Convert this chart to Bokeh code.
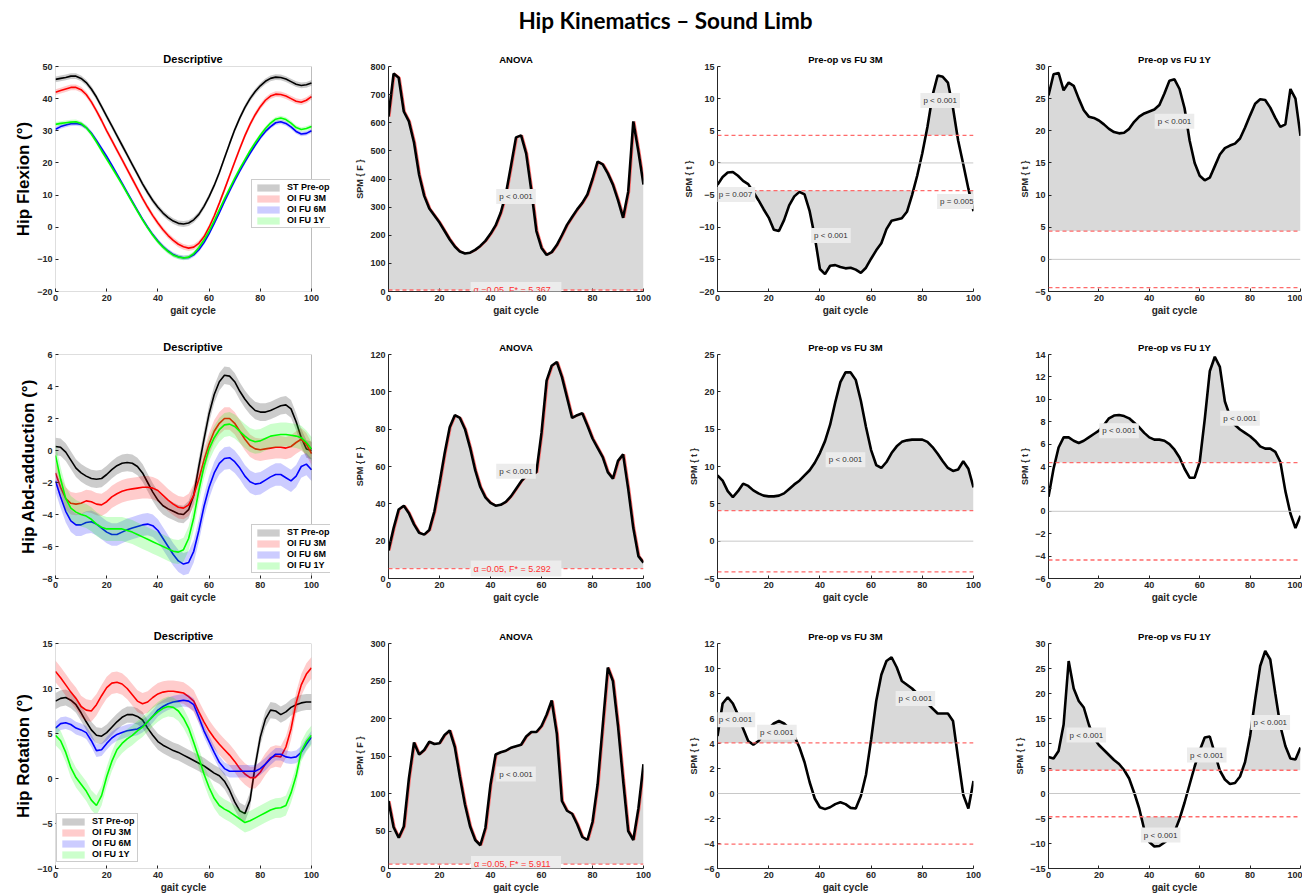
import numpy as np
from bokeh.plotting import figure
from bokeh.models import Range1d, FixedTicker, Label, Legend, LegendItem, Span, BoxAnnotation
from bokeh.layouts import column, row
from bokeh.embed import file_html
from bokeh.resources import INLINE

# ---------------- data ----------------
GAIT = list(range(0, 101, 2))
SERIES_NAMES = ["ST Pre-op", "OI FU 3M", "OI FU 6M", "OI FU 1Y"]
MAIN_TITLE = "Hip Kinematics \u2013 Sound Limb"
ROW_LABELS = ["Hip Flexion (\u00b0)", "Hip Abd-adduction (\u00b0)", "Hip Rotation (\u00b0)"]

# Hip flexion
FLEX_ST = [46.0, 46.3, 46.6, 47.0, 47.0, 46.3, 45.0, 43.0, 40.5, 37.5,
           34.5, 31.5, 28.5, 25.5, 22.5, 19.5, 16.5, 13.5, 10.8, 8.3,
           6.2, 4.4, 3.0, 1.9, 1.2, 1.0, 1.3, 2.3, 4.0, 6.5,
           9.5, 13.0, 17.0, 21.5, 26.0, 30.3, 34.0, 37.3, 40.0, 42.2,
           44.0, 45.4, 46.3, 46.7, 46.6, 46.1, 45.3, 44.5, 44.1, 44.3,
           44.9]
FLEX_3M = [42.0, 42.5, 43.0, 43.5, 43.5, 42.8, 41.3, 39.0, 36.2, 33.2,
           30.0, 27.0, 24.0, 21.0, 18.0, 15.0, 12.0, 9.0, 6.2, 3.6,
           1.3, -0.8, -2.6, -4.1, -5.3, -6.1, -6.5, -6.2, -5.0, -3.0,
           0.0, 3.5, 7.5, 11.7, 16.0, 20.3, 24.5, 28.5, 32.0, 35.0,
           37.5, 39.5, 40.8, 41.4, 41.3, 40.8, 40.0, 39.2, 38.9, 39.5,
           40.6]
FLEX_6M = [30.5, 31.3, 31.8, 32.2, 32.3, 32.0, 31.0, 29.3, 27.0, 24.5,
           22.0, 19.3, 16.5, 13.7, 10.8, 8.0, 5.2, 2.5, 0.0, -2.3,
           -4.3, -6.0, -7.4, -8.5, -9.2, -9.5, -9.4, -8.6, -7.0, -4.8,
           -2.0, 1.2, 4.5, 8.0, 11.3, 14.5, 17.5, 20.3, 23.0, 25.5,
           27.8, 29.8, 31.3, 32.5, 32.8, 32.3, 31.2, 29.8, 29.0, 29.2,
           30.0]
FLEX_1Y = [32.0, 32.3, 32.5, 32.7, 32.8, 32.3, 31.0, 29.0, 26.5, 23.8,
           21.2, 18.6, 16.0, 13.3, 10.5, 7.7, 5.0, 2.3, -0.2, -2.5,
           -4.5, -6.2, -7.6, -8.7, -9.3, -9.6, -9.3, -8.2, -6.3, -4.0,
           -1.2, 2.0, 5.4, 8.8, 12.0, 15.2, 18.2, 21.0, 23.8, 26.3,
           28.6, 30.7, 32.4, 33.6, 34.0, 33.5, 32.4, 31.0, 30.4, 30.7,
           31.3]
FLEX_SD = [0.9, 0.9, 0.7, 0.7]
FLEX_F = [622, 775, 760, 640, 605, 530, 415, 340, 295, 270,
          245, 215, 185, 160, 142, 135, 138, 148, 162, 180,
          205, 235, 280, 345, 445, 548, 555, 490, 360, 215,
          155, 130, 140, 165, 200, 237, 265, 292, 315, 345,
          400, 462, 452, 420, 380, 325, 262, 355, 605, 498,
          380]
FLEX_T3M = [-3.4, -2.2, -1.5, -1.4, -2.0, -2.8, -3.3, -4.5, -5.8, -7.2,
            -8.5, -10.4, -10.6, -8.9, -6.6, -5.2, -4.5, -4.9, -7.5, -11.5,
            -16.5, -17.3, -16.0, -15.9, -16.2, -16.4, -16.3, -16.6, -17.1, -16.3,
            -14.9, -13.6, -12.5, -10.3, -9.0, -8.8, -8.6, -7.6, -5.0, -2.0,
            1.5, 5.6, 10.5, 13.6, 13.4, 12.5, 8.5, 3.5, -0.2, -4.0,
            -7.5]
FLEX_T1Y = [25.5, 28.8, 29.0, 26.3, 27.5, 27.0, 25.0, 23.2, 22.2, 22.0,
            21.6, 21.0, 20.3, 19.8, 19.6, 19.7, 20.3, 21.4, 22.2, 22.7,
            23.0, 23.3, 24.0, 25.8, 27.8, 28.0, 26.5, 23.5, 18.5, 15.0,
            13.0, 12.3, 12.7, 14.5, 16.3, 17.3, 17.7, 18.0, 18.8, 20.5,
            22.4, 24.2, 24.9, 24.8, 23.6, 22.0, 20.6, 21.0, 26.5, 25.0,
            19.2]
FLEX_FSTAR, FLEX_T3M_STAR, FLEX_T1Y_STAR = 5.367, 4.3, 4.4

# Hip abd-adduction
ABD_ST = [0.25, 0.2, -0.1, -0.6, -1.1, -1.4, -1.6, -1.75, -1.8, -1.75,
          -1.5, -1.2, -0.95, -0.8, -0.75, -0.8, -1.0, -1.4, -2.0, -2.6,
          -3.1, -3.45, -3.65, -3.8, -3.95, -4.0, -3.7, -2.8, -1.0, 0.7,
          2.3, 3.5, 4.3, 4.7, 4.65, 4.3, 3.7, 3.2, 2.8, 2.5,
          2.4, 2.4, 2.5, 2.65, 2.8, 2.85, 2.6, 1.8, 0.8, 0.1,
          0.0]
ABD_3M = [-1.4, -2.3, -3.0, -3.3, -3.35, -3.3, -3.15, -3.2, -3.35, -3.4,
          -3.2, -2.9, -2.7, -2.55, -2.45, -2.4, -2.35, -2.3, -2.3, -2.35,
          -2.5, -2.8, -3.1, -3.35, -3.55, -3.6, -3.4, -2.8, -1.8, -0.6,
          0.4, 1.2, 1.7, 2.0, 2.0, 1.7, 1.2, 0.7, 0.3, 0.1,
          0.05, 0.1, 0.15, 0.2, 0.2, 0.15, 0.25, 0.5, 0.7, 0.4,
          -0.2]
ABD_6M = [-1.9, -2.9, -3.8, -4.4, -4.65, -4.65, -4.5, -4.45, -4.6, -4.85,
          -5.1, -5.25, -5.25, -5.1, -4.95, -4.85, -4.75, -4.65, -4.6, -4.7,
          -5.0, -5.5, -6.0, -6.5, -6.9, -7.1, -7.0, -6.3, -5.0, -3.5,
          -2.3, -1.4, -0.8, -0.5, -0.45, -0.7, -1.1, -1.6, -1.95, -2.1,
          -2.05, -1.85, -1.65, -1.5, -1.5, -1.7, -1.9, -1.6, -1.0, -0.85,
          -1.2]
ABD_1Y = [-0.3, -1.8, -3.0, -3.6, -3.85, -4.0, -4.1, -4.3, -4.6, -4.8,
          -4.9, -4.9, -4.9, -4.9, -5.0, -5.1, -5.25, -5.4, -5.55, -5.7,
          -5.85, -6.0, -6.15, -6.3, -6.35, -6.2, -5.5, -4.2, -2.5, -1.0,
          0.1, 0.8, 1.3, 1.6, 1.65, 1.5, 1.2, 0.9, 0.65, 0.55,
          0.6, 0.75, 0.9, 0.95, 1.0, 1.0, 0.95, 0.9, 0.8, 0.5,
          0.1]
ABD_SD = [0.55, 0.7, 0.7, 0.75]
ABD_F = [15, 27, 37, 39, 35, 29, 24.5, 23.5, 26, 36,
         51, 67, 81, 87.5, 86, 80, 70, 58, 49, 43.5,
         40.5, 39, 39.5, 41, 44, 48, 52, 55, 55.5, 57,
         78, 106, 114, 116, 108, 97, 86, 87.5, 88.5, 82,
         75, 70, 65, 57, 53.5, 63, 66.5, 48, 27, 12,
         8.5]
ABD_T3M = [8.8, 8.1, 6.7, 5.9, 6.7, 7.7, 7.4, 6.8, 6.4, 6.1,
           6.0, 6.0, 6.1, 6.4, 7.0, 7.6, 8.1, 8.8, 9.5, 10.5,
           11.8, 13.4, 15.6, 18.6, 21.3, 22.6, 22.6, 21.6, 18.8, 15.3,
           12.2, 10.2, 9.8, 10.6, 11.8, 12.7, 13.3, 13.5, 13.6, 13.6,
           13.6, 13.3, 12.6, 11.7, 10.7, 9.8, 9.4, 9.6, 10.7, 9.7,
           7.2]
ABD_T1Y = [1.3, 3.8, 5.7, 6.6, 6.6, 6.3, 6.1, 6.3, 6.6, 6.9,
           7.2, 7.7, 8.3, 8.55, 8.6, 8.5, 8.3, 7.9, 7.5, 7.0,
           6.6, 6.4, 6.4, 6.3, 6.0, 5.5, 4.8, 3.8, 3.0, 3.0,
           4.4, 8.2, 12.5, 13.8, 12.9, 9.8, 8.5, 7.7, 7.3, 7.0,
           6.7, 6.3, 5.8, 5.6, 5.6, 5.3, 4.4, 1.8, -0.2, -1.5,
           -0.4]
ABD_FSTAR, ABD_T3M_STAR, ABD_T1Y_STAR = 5.292, 4.1, 4.35

# Hip rotation
ROT_ST = [8.6, 8.9, 9.0, 8.7, 8.2, 7.3, 6.3, 5.4, 4.8, 4.7,
          5.1, 5.7, 6.3, 6.8, 7.1, 7.1, 6.9, 6.5, 5.6, 4.8,
          4.1, 3.7, 3.4, 3.1, 2.9, 2.6, 2.3, 2.0, 1.7, 1.4,
          1.0, 0.6, 0.3, -0.3, -1.3, -2.6, -3.6, -3.9, -2.4, 1.4,
          4.6, 6.6, 7.6, 7.5, 7.1, 7.4, 7.9, 8.2, 8.4, 8.5,
          8.5]
ROT_3M = [11.9, 11.2, 10.4, 9.6, 8.9, 8.0, 7.6, 7.5, 8.2, 9.2,
          10.1, 10.6, 10.7, 10.5, 10.0, 9.3, 8.6, 8.3, 8.5, 9.0,
          9.4, 9.6, 9.7, 9.7, 9.6, 9.5, 9.1, 8.6, 7.4, 6.3,
          5.3, 4.5, 3.8, 3.2, 2.6, 1.9, 1.1, 0.5, 0.1, 0.1,
          0.7, 1.6, 2.3, 2.5, 2.4, 3.5, 5.5, 8.4, 10.4, 11.6,
          12.3]
ROT_6M = [5.6, 6.1, 6.2, 6.0, 5.6, 5.4, 5.1, 4.2, 3.1, 3.2,
          3.9, 4.5, 4.9, 5.1, 5.3, 5.4, 5.5, 5.8, 6.3, 6.9,
          7.6, 8.0, 8.3, 8.5, 8.6, 8.7, 8.6, 8.2, 6.8, 5.3,
          4.1, 2.9, 1.8, 1.1, 0.8, 0.8, 0.8, 0.8, 0.8, 0.8,
          1.1, 1.6, 2.2, 2.7, 2.7, 2.4, 2.3, 2.4, 2.9, 3.8,
          4.6]
ROT_1Y = [4.8, 4.2, 2.9, 1.2, 0.1, -0.65, -1.4, -2.4, -3.0, -1.9,
          0.2, 1.9, 3.2, 3.9, 4.4, 4.8, 5.3, 5.7, 6.3, 6.9,
          7.4, 7.8, 8.0, 7.9, 7.5, 6.7, 5.6, 4.0, 2.3, 0.5,
          -1.0, -2.2, -3.0, -3.4, -3.7, -4.1, -4.5, -4.9, -4.7, -4.4,
          -4.1, -3.8, -3.5, -3.3, -3.25, -3.0, -1.6, 0.3, 3.0, 4.1,
          4.8]
ROT_SD = [0.9, 1.2, 0.7, 1.1]
ROT_F = [90, 55, 41, 56, 120, 168, 152, 158, 169, 166,
         167, 178, 184, 162, 122, 85, 56, 38, 31, 54,
         112, 152, 155, 157, 161, 163, 165, 176, 182, 182,
         190, 205, 224, 180, 90, 77, 73, 59, 42, 38,
         62, 112, 190, 268, 250, 190, 118, 50, 38, 80,
         139]
ROT_T3M = [4.6, 7.2, 7.7, 7.2, 6.3, 5.2, 4.2, 3.9, 4.2, 4.7,
           5.2, 5.6, 5.8, 5.6, 5.2, 4.6, 3.7, 2.5, 0.9, -0.4,
           -1.1, -1.25, -1.1, -0.85, -0.7, -0.85, -1.15, -1.2, -0.2, 1.5,
           4.3, 7.4, 9.5, 10.6, 10.9, 10.1, 9.0, 8.7, 8.4, 8.0,
           7.6, 7.2, 6.8, 6.4, 6.4, 6.4, 5.8, 2.8, -0.1, -1.2,
           1.0]
ROT_T1Y = [7.3, 7.0, 8.5, 13.8, 26.5, 21.0, 18.5, 17.2, 13.8, 11.1,
           9.7, 8.7, 7.7, 6.7, 5.9, 4.7, 3.0, 0.2, -3.0, -7.2,
           -9.7, -10.6, -10.5, -9.8, -9.0, -7.7, -5.1, -1.8, 1.8, 5.4,
           8.6, 11.2, 11.4, 8.0, 4.6, 2.8, 1.9, 2.1, 3.4, 6.3,
           11.5, 18.8, 25.5, 28.5, 26.8, 20.0, 13.5, 9.5, 7.0, 6.8,
           9.2]
ROT_FSTAR, ROT_T3M_STAR, ROT_T1Y_STAR = 5.911, 4.05, 4.65

# ---------------- styling / geometry ----------------
FONT = "Liberation Sans"
SERIES_COLORS = ["#000000", "#ff0000", "#0000ff", "#00ff00"]
AXC = "#262626"
ROW_GEOM = [(288, 24, 39), (290, 24, 42), (275, 23, 27)]      # height, top, bottom
COL_GEOM = [(345, 55, 34), (335, 43, 37), (332, 37, 39), (290, 36, 2)]  # width, left, right


def base_fig(r, c, yr, yticks, title, tsize, box, xmax=100, right=None):
    w, bl, br = COL_GEOM[c]
    if right is not None:
        br = right
    h, bt, bb = ROW_GEOM[r]
    p = figure(width=w, height=h, x_range=Range1d(0, xmax), y_range=Range1d(yr[0], yr[1]),
               output_backend="svg", toolbar_location=None,
               min_border_left=bl, min_border_right=br, min_border_top=bt, min_border_bottom=bb)
    p.title.text = title
    p.title.align = "center"
    p.title.text_font = FONT
    p.title.text_font_size = tsize
    p.title.text_font_style = "bold"
    p.title.text_color = "#000000"
    p.title.standoff = 3
    p.grid.visible = False
    p.outline_line_color = None
    for ax in (p.xaxis[0], p.yaxis[0]):
        ax.major_tick_in = 3
        ax.major_tick_out = 0
        ax.minor_tick_line_color = None
        ax.axis_line_color = AXC
        ax.major_tick_line_color = AXC
        ax.major_label_text_font = FONT
        ax.major_label_text_font_size = "9px"
        ax.major_label_text_font_style = "bold"
        ax.major_label_text_color = AXC
        ax.major_label_standoff = 3
        ax.axis_label_text_font = FONT
        ax.axis_label_text_font_style = "bold"
        ax.axis_label_text_color = AXC
    p.xaxis.ticker = FixedTicker(ticks=[0, 20, 40, 60, 80, 100])
    p.yaxis.ticker = FixedTicker(ticks=yticks)
    p.xaxis.axis_label = "gait cycle"
    p.xaxis.axis_label_text_font_size = "10px"
    p.xaxis.axis_label_standoff = 1
    if box:
        p.xaxis.axis_line_color = None
        p.yaxis.axis_line_color = None
        p.add_layout(BoxAnnotation(left=0, right=100, bottom=yr[0], top=yr[1], fill_alpha=0,
                                   line_color=AXC, line_width=1))
    return p


def desc_panel(r, means, sds, yr, yticks, leg_loc, wide):
    # 'wide' lets the legend overhang the right side of the axes box, as in the reference
    if wide:
        p = base_fig(r, 0, yr, yticks, "Descriptive", "11px", True, xmax=100 * 275 / 256, right=15)
    else:
        p = base_fig(r, 0, yr, yticks, "Descriptive", "11px", True)
    x = np.array(GAIT, float)
    items = []
    for name, col, m, s in zip(SERIES_NAMES, SERIES_COLORS, means, sds):
        m = np.array(m, float)
        band = p.varea(x=x, y1=m - s, y2=m + s, fill_color=col, fill_alpha=0.2)
        p.line(x, m, line_color=col, line_width=1.6)
        items.append(LegendItem(label=name, renderers=[band]))
    leg = Legend(items=items, location=leg_loc, orientation="vertical",
                 label_text_font=FONT, label_text_font_size="9px", label_text_font_style="bold",
                 label_text_color="#000000", glyph_width=28, glyph_height=9, label_height=9,
                 label_standoff=5, spacing=1, padding=2, margin=0,
                 border_line_color="#9a9a9a", background_fill_color="white", background_fill_alpha=1.0)
    p.add_layout(leg)
    p.yaxis.axis_label = ROW_LABELS[r]
    p.yaxis.axis_label_text_font_size = "17px"
    p.yaxis.axis_label_text_color = "#000000"
    p.yaxis.axis_label_standoff = 1
    return p


def exceed(x, z, thr, upper):
    xs, zs = [x[0]], [z[0]]
    for i in range(1, len(x)):
        a = z[i - 1] - thr
        b = z[i] - thr
        if a * b < 0:
            t = a / (a - b)
            xs.append(x[i - 1] + t * (x[i] - x[i - 1]))
            zs.append(thr)
        xs.append(x[i])
        zs.append(z[i])
    xs = np.array(xs)
    zs = np.array(zs)
    return xs, (np.maximum(zs, thr) if upper else np.minimum(zs, thr))


def red_span(p, loc):
    p.add_layout(Span(location=loc, dimension="width", line_color="#ff6a6a",
                      line_width=1.3, line_dash="4 3"))


def plabel(p, x, y, text, color="#333333", size="8px"):
    p.add_layout(Label(x=x, y=y, text=text, text_font=FONT, text_font_size=size,
                       text_color=color, text_align="center", text_baseline="middle",
                       background_fill_color="#ececec", background_fill_alpha=1.0, padding=3))


def spm_panel(r, c, z, thr, anova, yr, yticks, title, plabels):
    p = base_fig(r, c, yr, yticks, title, "9.5px", False)
    x = np.array(GAIT, float)
    z = np.array(z, float)
    xs, ys = exceed(x, z, thr, True)
    p.varea(x=xs, y1=thr, y2=ys, fill_color="#d9d9d9")
    if not anova:
        xs2, ys2 = exceed(x, z, -thr, False)
        p.varea(x=xs2, y1=-thr, y2=ys2, fill_color="#d9d9d9")
        p.add_layout(Span(location=0, dimension="width", line_color="#c8c8c8", line_width=1))
        red_span(p, -thr)
        p.yaxis.axis_label = "SPM { t }"
    else:
        p.yaxis.axis_label = "SPM { F }"
    red_span(p, thr)
    if anova:
        p.line(x + 0.6, z, line_color="#ff7070", line_width=1.2)
    p.line(x, z, line_color="#000000", line_width=2.6)
    p.yaxis.axis_label_text_font_size = "9px"
    p.yaxis.axis_label_standoff = 2
    for (lx, ly, txt) in plabels:
        plabel(p, lx, ly, txt)
    if anova:
        plabel(p, 50, thr, "\u03b1 =0.05,    F* = %.3f" % thr, color="#ff3030", size="9px")
    return p


P001 = "p < 0.001"

rows = []
# Row 1
rows.append(row(
    desc_panel(0, [FLEX_ST, FLEX_3M, FLEX_6M, FLEX_1Y], FLEX_SD, (-20, 50), list(range(-20, 51, 10)),
               (196, 63), True),
    spm_panel(0, 1, FLEX_F, FLEX_FSTAR, True, (0, 800), list(range(0, 801, 100)), "ANOVA", [(50, 338, P001)]),
    spm_panel(0, 2, FLEX_T3M, FLEX_T3M_STAR, False, (-20, 15), list(range(-20, 16, 5)), "Pre-op vs FU 3M",
              [(7, -4.9, "p = 0.007"), (44.3, -11.3, P001), (87, 9.7, P001), (93.5, -6.0, "p = 0.005")]),
    spm_panel(0, 3, FLEX_T1Y, FLEX_T1Y_STAR, False, (-5, 30), list(range(-5, 31, 5)), "Pre-op vs FU 1Y",
              [(50, 21.5, P001)]),
))
# Row 2
rows.append(row(
    desc_panel(1, [ABD_ST, ABD_3M, ABD_6M, ABD_1Y], ABD_SD, (-8, 6), list(range(-8, 7, 2)), (196, 5), True),
    spm_panel(1, 1, ABD_F, ABD_FSTAR, True, (0, 120), list(range(0, 121, 20)), "ANOVA", [(50, 57.5, P001)]),
    spm_panel(1, 2, ABD_T3M, ABD_T3M_STAR, False, (-5, 25), list(range(-5, 26, 5)), "Pre-op vs FU 3M",
              [(50, 10.9, P001)]),
    spm_panel(1, 3, ABD_T1Y, ABD_T1Y_STAR, False, (-6, 14), list(range(-6, 15, 2)), "Pre-op vs FU 1Y",
              [(28, 7.2, P001), (76, 8.3, P001)]),
))
# Row 3
rows.append(row(
    desc_panel(2, [ROT_ST, ROT_3M, ROT_6M, ROT_1Y], ROT_SD, (-10, 15), list(range(-10, 16, 5)), (1, 6), False),
    spm_panel(2, 1, ROT_F, ROT_FSTAR, True, (0, 300), list(range(0, 301, 50)), "ANOVA", [(50, 126, P001)]),
    spm_panel(2, 2, ROT_T3M, ROT_T3M_STAR, False, (-6, 12), list(range(-6, 13, 2)), "Pre-op vs FU 3M",
              [(7, 5.9, P001), (23.2, 4.9, P001), (77.3, 7.6, P001)]),
    spm_panel(2, 3, ROT_T1Y, ROT_T1Y_STAR, False, (-15, 30), list(range(-15, 31, 5)), "Pre-op vs FU 1Y",
              [(15, 11.7, P001), (62.8, 7.7, P001), (44.5, -8.3, P001), (88, 14.2, P001)]),
))

# Title strip
tp = figure(width=1302, height=42, output_backend="svg", toolbar_location=None,
            x_axis_type=None, y_axis_type=None, x_range=Range1d(0, 1), y_range=Range1d(0, 1),
            min_border=0)
tp.outline_line_color = None
tp.grid.visible = False
tp.add_layout(Label(x=665, y=22, x_units="screen", y_units="screen", text=MAIN_TITLE,
                    text_font="Lato", text_font_size="22.5px", text_font_style="bold",
                    text_color="#000000", text_align="center", text_baseline="middle"))

layout = column(tp, *rows)
with open("out.html", "w", encoding="utf-8") as f:
    f.write(file_html(layout, INLINE, "Hip Kinematics"))
